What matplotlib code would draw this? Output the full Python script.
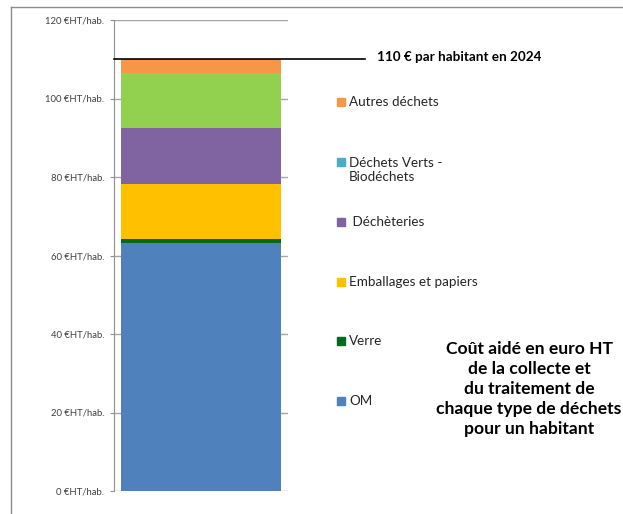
import matplotlib
matplotlib.use("Agg")
import matplotlib.pyplot as plt
import matplotlib.transforms as mtransforms
from matplotlib.patches import Rectangle
from matplotlib.lines import Line2D

plt.rcParams["font.family"] = ["Lato", "DejaVu Sans"]

# =========================
# DATA
# =========================

categories = ["OM", "Verre", "Emballages et papiers", " Déchèteries",
              "Déchets Verts -\nBiodéchets", "Autres déchets"]
values = [63.3, 0.8, 14.0, 14.4, 13.9, 3.6]
bar_colors = ["#4F81BD", "#006B1E", "#FFC000", "#8064A2", "#92D050", "#F79646"]
legend_colors = ["#4F81BD", "#006B1E", "#FFC000", "#8064A2", "#4BACC6", "#F79646"]

yticks = [0, 20, 40, 60, 80, 100, 120]
ytick_labels = [f"{v} €HT/hab." for v in yticks]

target = 110
target_label = "110 € par habitant en 2024"
note = ("Coût aidé en euro HT\nde la collecte et\ndu traitement de\n"
        "chaque type de déchets\npour un habitant")

# =========================
# FIGURE
# =========================

W, H = 623, 514
fig = plt.figure(figsize=(W / 100, H / 100), dpi=100)

def fx(px):
    return px / W

def fy(py):
    return 1 - py / H

ax = fig.add_axes([fx(114), fy(491), fx(288) - fx(114), fy(20) - fy(491)])

bottom = 0
for v, c in zip(values, bar_colors):
    ax.bar(0, v, width=0.914, bottom=bottom, color=c, zorder=2)
    bottom += v

ax.set_xlim(-0.5, 0.5)
ax.set_ylim(0, 120)
ax.set_yticks(yticks)
ax.set_yticklabels(ytick_labels, fontsize=6.8, color="#404040")
ax.set_xticks([])
ax.tick_params(axis="y", length=3, color="#909090", pad=4)
ax.yaxis.grid(True, color="#A6A6A6", linewidth=1, zorder=0)
ax.set_axisbelow(True)
for s in ["top", "right", "bottom"]:
    ax.spines[s].set_visible(False)
ax.spines["left"].set_color("#909090")

# target line at 110
trans = mtransforms.blended_transform_factory(ax.transAxes, ax.transData)
ax.plot([0, (365 - 114) / 174], [target, target], color="black",
        linewidth=1.2, transform=trans, clip_on=False, zorder=5)
fig.text(fx(377), fy(57), target_label, fontsize=9.7, fontweight="bold",
         va="center", ha="left")

# legend (manual, order as in the chart)
legend_y = [401, 341, 282, 222, 170, 102]
for lab, c, y in zip(categories, legend_colors, legend_y):
    ysq = y - 8 if "\n" in lab else y
    fig.text(fx(349), fy(y), lab, fontsize=9.7, color="#262626",
             va="center", ha="left", linespacing=1.2)
    fig.patches.append(Rectangle((fx(337), fy(ysq + 4)), fx(8), 8 / H,
                                 transform=fig.transFigure, color=c))

fig.text(fx(529), fy(389), note, fontsize=12.6, fontweight="bold",
         ha="center", va="center", linespacing=1.32)

# border lines
fig.add_artist(Line2D([fx(10.5), 1], [fy(7), fy(7)], color="#8C8C8C",
                      linewidth=1, transform=fig.transFigure))
fig.add_artist(Line2D([fx(10.5), fx(10.5)], [fy(7), 0], color="#8C8C8C",
                      linewidth=1, transform=fig.transFigure))

fig.savefig("out.png", dpi=100)
